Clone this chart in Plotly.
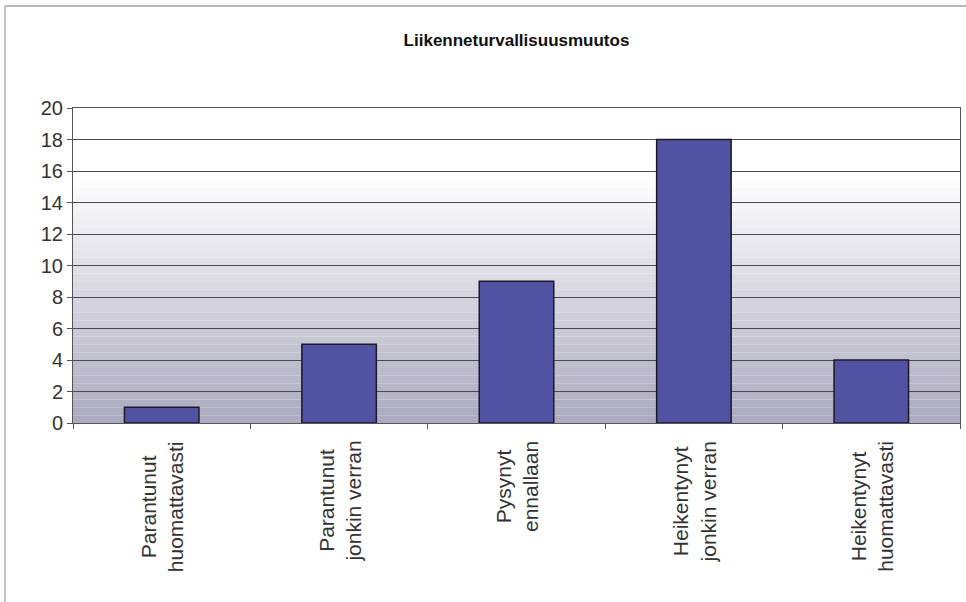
import plotly.graph_objects as go

categories = ["Parantunut<br>huomattavasti", "Parantunut<br>jonkin verran", "Pysynyt<br>ennallaan",
              "Heikentynyt<br>jonkin verran", "Heikentynyt<br>huomattavasti"]
values = [1, 5, 9, 18, 4]
title_text = "Liikenneturvallisuusmuutos"
y_ticks = list(range(0, 21, 2))

W, H = 966, 602
L, R, T, B = 73, 6, 108, 179
pw, ph = W - L - R, H - T - B

fig = go.Figure()
fig.add_trace(go.Bar(
    x=categories, y=values,
    marker=dict(color="#5252A2", line=dict(color="#1a1a2a", width=1.5)),
))

# gradient background (bands)
shapes = []
n = 40
top_c = (255, 255, 255)
bot_c = (172, 170, 190)
for i in range(n):
    y0 = i / n
    y1 = (i + 1) / n
    f = min(1.0, ((y0 + y1) / 2) / 0.78)
    c = tuple(int(bot_c[k] + (top_c[k] - bot_c[k]) * f) for k in range(3))
    shapes.append(dict(type="rect", xref="x domain", yref="y domain", x0=0, x1=1, y0=y0, y1=y1,
                       fillcolor="rgb(%d,%d,%d)" % c, line=dict(width=0), layer="below"))
# outer border: top and left lines only
bx0 = (5 - L) / pw
by_top = (H - B - 6) / ph
by_bot = -B / ph
shapes.append(dict(type="line", xref="paper", yref="paper", x0=bx0, x1=(W - L) / pw, y0=by_top, y1=by_top,
                   line=dict(color="#a0a0a0", width=1.5)))
shapes.append(dict(type="line", xref="paper", yref="paper", x0=bx0, x1=bx0, y0=by_bot, y1=by_top,
                   line=dict(color="#b0b0b0", width=1.5)))

# centered, rotated category labels
annotations = [dict(x=c, xref="x", y=-16 / ph, yref="paper", yanchor="top", xanchor="center",
                    text=c, textangle=-90, showarrow=False, align="center",
                    font=dict(size=21, color="#333", family="Liberation Sans, Arial"))
               for c in categories]

fig.update_layout(
    width=W, height=H,
    margin=dict(l=L, r=R, t=T, b=B),
    paper_bgcolor="white", plot_bgcolor="rgba(0,0,0,0)",
    bargap=0.58,
    showlegend=False,
    shapes=shapes,
    annotations=annotations,
    title=dict(text="<b>" + title_text + "</b>", x=0.5, xref="paper", xanchor="center",
               y=1 - 40 / H, yref="container", yanchor="middle",
               font=dict(family="Liberation Sans, Arial", size=17, color="#111")),
    font=dict(family="Liberation Sans, Arial", color="#333"),
)
fig.update_yaxes(range=[0, 20], tickvals=y_ticks, showgrid=True, gridcolor="#4a4a4a", gridwidth=1,
                 ticks="outside", ticklen=5, tickcolor="#555", tickfont=dict(size=20, color="#333"),
                 showline=True, linecolor="#555", linewidth=1, mirror=True, zeroline=False)
fig.update_xaxes(showticklabels=False, ticks="outside", tickson="boundaries", ticklen=5, tickcolor="#555",
                 showline=True, linecolor="#555", linewidth=1, mirror=True)

fig.write_html("out.html", config={"displayModeBar": False},
               post_script="document.body.style.margin='0';")
